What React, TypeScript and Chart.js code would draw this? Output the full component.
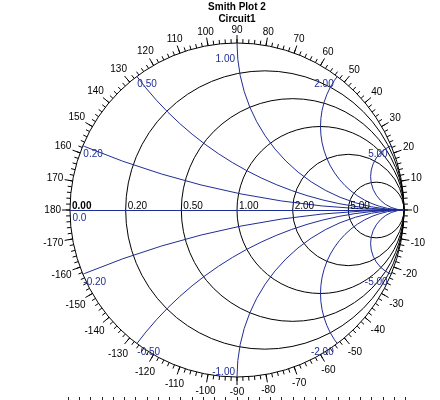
import React, { useEffect, useRef } from "react";
import { Chart, registerables } from "chart.js";

Chart.register(...registerables);

const titleText = "Smith Plot 2";
const subtitleText = "Circuit1";

// Normalized resistance circles (r = 0 is the outer boundary)
const resistanceValues = [0, 0.2, 0.5, 1, 2, 5];
const resistanceLabels = ["0.00", "0.20", "0.50", "1.00", "2.00", "5.00"];

// Normalized reactance arcs, inductive (+) and capacitive (-)
const reactanceValues = [0.2, 0.5, 1, 2, 5, -0.2, -0.5, -1, -2, -5];
const reactanceLabels = ["0.20", "0.50", "1.00", "2.00", "5.00", "-0.20", "-0.50", "-1.00", "-2.00", "-5.00"];

const realAxisLabel = "0.0";

// Reflection-coefficient angle scale (degrees)
const angleTicks = [
  0, 10, 20, 30, 40, 50, 60, 70, 80, 90, 100, 110, 120, 130, 140, 150, 160, 170, 180,
  -170, -160, -150, -140, -130, -120, -110, -100, -90, -80, -70, -60, -50, -40, -30, -20, -10,
];
const angleTickLabels = angleTicks.map((a) => String(a));
const angleMinorStep = 2;

const BLACK = "#000000";
const BLUE = "#1f2d96";
const FONT = '"Liberation Sans", Arial, sans-serif';

const smithGrid = {
  id: "smithGrid",
  beforeDatasetsDraw(chart: any) {
    const { ctx, chartArea, scales } = chart;
    const sx = scales.x;
    const sy = scales.y;
    const X = (u: number) => sx.getPixelForValue(u);
    const Y = (v: number) => sy.getPixelForValue(v);
    const cx = X(0);
    const cy = Y(0);
    const R = X(1) - X(0);

    ctx.save();
    ctx.lineWidth = 1;

    // constant-resistance circles
    ctx.strokeStyle = BLACK;
    resistanceValues.forEach((r) => {
      ctx.beginPath();
      ctx.arc(X(r / (1 + r)), cy, R / (1 + r), 0, Math.PI * 2);
      ctx.stroke();
    });

    // constant-reactance arcs, kept inside the unit circle
    ctx.save();
    ctx.beginPath();
    ctx.arc(cx, cy, R, 0, Math.PI * 2);
    ctx.clip();
    ctx.strokeStyle = BLUE;
    reactanceValues.forEach((x) => {
      ctx.beginPath();
      ctx.arc(X(1), Y(1 / x), R / Math.abs(x), 0, Math.PI * 2);
      ctx.stroke();
    });
    ctx.restore();

    // real axis (x = 0)
    ctx.strokeStyle = BLUE;
    ctx.beginPath();
    ctx.moveTo(X(-1), cy + 0.5);
    ctx.lineTo(X(1), cy + 0.5);
    ctx.stroke();

    // resistance labels along the real axis
    ctx.font = `10px ${FONT}`;
    ctx.textAlign = "left";
    ctx.textBaseline = "alphabetic";
    resistanceValues.forEach((r, i) => {
      const left = X((r - 1) / (r + 1));
      ctx.fillStyle = BLACK;
      ctx.font = r === 0 ? `bold 10px ${FONT}` : `10px ${FONT}`;
      ctx.fillText(resistanceLabels[i], left + 2, cy - 1);
    });
    ctx.font = `10px ${FONT}`;
    ctx.fillStyle = BLUE;
    ctx.fillText(realAxisLabel, X(-1) + 2.5, cy + 10.5);

    // reactance labels where each arc meets the boundary
    reactanceValues.forEach((x, i) => {
      const gr = (x * x - 1) / (x * x + 1);
      const gi = (2 * x) / (x * x + 1);
      const px = X(gr);
      const py = Y(gi);
      ctx.fillStyle = BLUE;
      if (Math.abs(gr) < 0.05) {
        ctx.textAlign = "right";
        ctx.fillText(reactanceLabels[i], px - 2, x > 0 ? py + 19 : py - 2);
      } else if (gr < 0) {
        ctx.textAlign = "left";
        ctx.fillText(reactanceLabels[i], px + 0.5, py + 11);
      } else {
        ctx.textAlign = "right";
        ctx.fillText(reactanceLabels[i], px - 3.5, py + 11);
      }
    });

    // angle ticks around the boundary
    ctx.strokeStyle = BLACK;
    for (let deg = -180; deg < 180; deg += angleMinorStep) {
      const t = (deg * Math.PI) / 180;
      const c = Math.cos(t);
      const s = -Math.sin(t);
      ctx.beginPath();
      ctx.moveTo(cx + c * R, cy + s * R);
      ctx.lineTo(cx + c * (R + 4), cy + s * (R + 4));
      ctx.stroke();
    }
    ctx.fillStyle = BLACK;
    ctx.font = `10px ${FONT}`;
    ctx.textAlign = "center";
    ctx.textBaseline = "middle";
    angleTicks.forEach((deg, i) => {
      const t = (deg * Math.PI) / 180;
      const c = Math.cos(t);
      const s = -Math.sin(t);
      ctx.beginPath();
      ctx.moveTo(cx + c * R, cy + s * R);
      ctx.lineTo(cx + c * (R + 8), cy + s * (R + 8));
      ctx.stroke();
      const label = angleTickLabels[i];
      const w = ctx.measureText(label).width;
      const d = R + 9 + (Math.abs(c) * w) / 2 + Math.abs(s) * 3.6;
      const shift = s > 0 ? 1.5 * s + 1 : 0;
      ctx.fillText(label, cx + c * d, cy + s * d + shift);
    });

    // tick row along the bottom edge
    ctx.strokeStyle = "#222222";
    const rowY = chartArea.bottom + 20;
    const rowLeft = chartArea.left - 2;
    const rowRight = chartArea.right + 1;
    const count = 30;
    for (let k = 0; k <= count; k++) {
      const x = Math.round(rowLeft + ((rowRight - rowLeft) * k) / count) + 0.5;
      ctx.beginPath();
      ctx.moveTo(x, rowY);
      ctx.lineTo(x, rowY + 3);
      ctx.stroke();
    }

    ctx.restore();
  },
};

export default function App() {
  const canvasRef = useRef<HTMLCanvasElement | null>(null);

  useEffect(() => {
    const canvas = canvasRef.current;
    if (!canvas) return;
    const chart = new Chart(canvas, {
      type: "scatter",
      data: { datasets: [] },
      options: {
        responsive: false,
        maintainAspectRatio: false,
        animation: false,
        devicePixelRatio: 1,
        layout: { padding: { left: 70, right: 36, top: 0, bottom: 23 } },
        scales: {
          x: { type: "linear", min: -1, max: 1, display: false },
          y: { type: "linear", min: -1, max: 1, display: false },
        },
        plugins: {
          legend: { display: false },
          tooltip: { enabled: false },
          title: {
            display: true,
            text: titleText,
            color: BLACK,
            font: { family: FONT, size: 10, weight: "bold" },
            padding: { top: 1, bottom: 0 },
          },
          subtitle: {
            display: true,
            text: subtitleText,
            color: BLACK,
            font: { family: FONT, size: 10, weight: "bold" },
            padding: { top: 0, bottom: 18 },
          },
        },
      },
      plugins: [smithGrid],
    } as any);
    return () => chart.destroy();
  }, []);

  return (
    <div style={{ position: "absolute", left: 0, top: 0, width: 440, height: 400, background: "#ffffff" }}>
      <canvas ref={canvasRef} width={440} height={400} />
    </div>
  );
}
